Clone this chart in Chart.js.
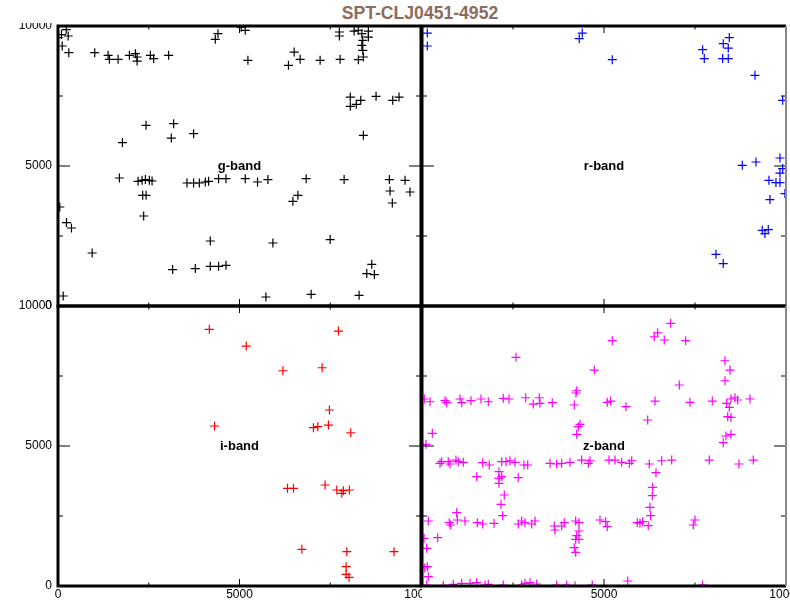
<!DOCTYPE html>
<html>
<head>
<meta charset="utf-8">
<script src="https://cdn.jsdelivr.net/npm/chart.js@4.4.1/dist/chart.umd.min.js"></script>
<style>
  body { margin: 0; background: #fff; }
  #wrap { position: relative; width: 790px; height: 600px; overflow: hidden; }
  canvas { position: absolute; }
  #title {
    position: absolute; left: 0; width: 840px; top: 3px; text-align: center;
    font: bold 17.6px "Liberation Sans", Arial, sans-serif; color: #8c6c5c;
  }
</style>
</head>
<body>
<div id="wrap">
  <div id="title">SPT-CLJ0451-4952</div>
  <canvas id="tl" width="422" height="290" style="left:0;top:23px"></canvas>
  <canvas id="tr" width="370" height="290" style="left:420px;top:23px"></canvas>
  <canvas id="bl" width="422" height="304" style="left:0;top:296px"></canvas>
  <canvas id="br" width="370" height="304" style="left:420px;top:296px"></canvas>
</div>
<script>
// pixel positions on the chip, both axes 0..10000
const tickValues = [0, 5000, 10000];
const innerTicks = [2500, 5000, 7500];
const bandLabels = ['g-band', 'r-band', 'i-band', 'z-band'];

const gX = [226,96,281,6,116,297,1012,1381,1417,1656,1967,2132,2179,2179,2545,2635,3048,2426,3186,3122,3736,1774,
  4333,4407,5158,5048,5232,6349,6506,6671,7221,7772,7752,7752,8157,8275,8369,8550,8550,8396,8369,8396,8413,8275,
  8052,8052,8217,8341,8762,9221,9395,8413,
  1692,2206,2316,2407,2517,2591,2333,2426,2360,3554,3736,3893,4058,4149,4424,4627,5158,5497,5783,6836,7882,9128,
  9560,9147,9697,9210,6470,6608,50,234,371,941,3158,3783,4195,4424,4627,4195,5920,7497,8644,8506,8715,143,5728,6974,8294];
const gY = [9871,9692,9642,9585,9285,9049,9049,8953,8810,8810,8953,9013,8892,8749,8953,8835,8953,6453,6513,5999,6156,5835,
  9524,9727,9845,9952,8774,8595,9070,8810,8774,8810,9785,9642,9820,9845,9727,9820,9606,9488,9310,9131,8892,8799,
  7463,7131,7203,7346,7489,7346,7463,6096,
  4571,4453,4489,4514,4489,4464,3953,3953,3214,4392,4392,4392,4428,4453,4549,4549,4549,4428,4514,4549,4514,4514,
  4489,4107,4071,3678,3739,3953,3535,2978,2785,1893,1300,1336,1418,1418,1453,2321,2250,2371,1489,1157,1121,357,321,418,382];

const rX = [146,146,4403,4321,5228,7711,7755,8277,8442,8414,8260,8414,9148,9908,
  8799,9175,9834,9834,9908,9532,9724,9834,9971,9560,9348,9513,9422,8076,8277];
const rY = [9749,9285,9749,9549,8799,9156,8835,9370,9585,9213,8835,8835,8238,7346,
  5024,5142,5285,4749,4907,4489,4407,4407,4014,3800,2703,2728,2585,1846,1514];

const iX = [4168,5186,6195,7276,7725,7477,4314,7037,7158,7450,8066,6322,6487,7359,7681,7818,7862,8027,6718,7956,9257,7937,7937,8019];
const iY = [9167,8570,7688,7795,9106,6285,5714,5653,5689,5749,5474,3489,3489,3607,3428,3310,3403,3428,1311,1225,1225,689,418,311];

const zX = [6832,6475,6381,6656,7244,5228,2582,4733,8323,8461,8323,7068,4250,4230,63,220,632,679,1044,1091,1346,1621,1821,
  2233,2390,2849,3057,3222,3241,3579,4184,5090,5184,5604,6401,7362,7975,8370,8488,8598,8672,9010,8442,8398,8488,6200,
  4340,4294,4250,283,110,8351,8488,8277,
  494,541,722,769,934,997,1135,1667,1849,2189,2307,2417,2555,2802,2904,3516,3700,3838,4066,4387,4568,4615,5137,5302,
  5486,5695,5761,6244,6585,6859,7892,8708,9101,
  1503,2115,2115,2189,2115,2645,6428,2261,2170,2217,6337,6326,6263,6282,
  173,750,788,953,970,1181,1519,1667,1978,2645,2739,2829,3013,3104,3634,3654,3838,3909,4222,4313,4313,4250,4222,4313,
  4184,4222,4890,5046,5090,5914,5988,6063,6216,7453,7499,
  55,431,129,146,77,173,129,
  585,860,1091,1319,1503,1731,1821,2233,2739,2829,2967,3151,3700,3975,4203,4678,5651,7711];
const zY = [9381,9045,8902,8785,8760,8760,8167,7713,8045,7713,7331,7178,6974,6892,6678,6581,6617,6546,6678,6546,6617,6678,6581,
  6703,6678,6724,6499,6724,6524,6546,6464,6560,6606,6403,6606,6560,6606,6524,6678,6724,6642,6678,6381,6046,6024,5928,
  5774,5689,5417,5453,5060,5357,5417,5117,
  4382,4439,4439,4357,4499,4439,4417,4403,4321,4439,4439,4474,4417,4321,4321,4382,4357,4382,4417,4499,4382,4474,4499,4499,
  4417,4382,4474,4357,4474,4499,4499,4357,4499,
  3903,4082,3846,3903,3667,3867,4046,3250,2918,2510,3525,3225,2810,2510,
  2321,2260,2178,2618,2357,2321,2260,2214,2239,2214,2321,2260,2214,2321,2143,2000,2143,2260,2321,2260,1964,1796,1668,1668,
  1368,1203,2357,2296,2118,2260,2239,2296,2153,2178,2357,
  1703,1725,1346,689,643,332,36,
  20,61,96,96,118,36,61,36,36,96,118,71,36,36,10,36,179,36];

const FONT = '"Liberation Sans", Arial, sans-serif';

// frame with inward ticks and the band name in the middle
const framePlugin = {
  id: 'frame',
  afterDatasetsDraw(chart, args, opts) {
    const { ctx, chartArea: a, scales: { x, y } } = chart;
    ctx.save();
    ctx.strokeStyle = '#000';
    ctx.lineWidth = 1;
    ctx.beginPath();
    innerTicks.forEach(v => {
      const px = x.getPixelForValue(v), py = y.getPixelForValue(v);
      const lx = v === 5000 ? 7 : 3.5, ly = v === 5000 ? 12 : 5;
      ctx.moveTo(px, a.bottom); ctx.lineTo(px, a.bottom - lx);
      ctx.moveTo(px, a.top); ctx.lineTo(px, a.top + lx);
      ctx.moveTo(a.left, py); ctx.lineTo(a.left + ly, py);
      ctx.moveTo(a.right, py); ctx.lineTo(a.right - ly, py);
    });
    ctx.stroke();

    ctx.lineWidth = 3;
    ctx.beginPath();
    ctx.moveTo(a.right, a.top); ctx.lineTo(a.left, a.top);
    ctx.lineTo(a.left, a.bottom); ctx.lineTo(a.right, a.bottom);
    if (!opts.greyRight) ctx.lineTo(a.right, a.top);
    ctx.stroke();
    if (opts.greyRight) {
      ctx.strokeStyle = '#888';
      ctx.lineWidth = 2;
      ctx.beginPath();
      ctx.moveTo(a.right, a.top); ctx.lineTo(a.right, a.bottom);
      ctx.stroke();
    }

    ctx.fillStyle = '#000';
    ctx.font = 'bold 13px ' + FONT;
    ctx.textAlign = 'center';
    ctx.textBaseline = 'middle';
    ctx.fillText(opts.label, x.getPixelForValue(5000), y.getPixelForValue(5000));
    ctx.restore();
  }
};

function makePanel(id, xs, ys, color, label, cfg) {
  const pts = xs.map((v, i) => ({ x: v, y: ys[i] }));
  new Chart(document.getElementById(id), {
    type: 'scatter',
    data: {
      datasets: [{
        data: pts,
        pointStyle: 'cross',
        pointRadius: 4.5,
        pointHoverRadius: 4.5,
        borderColor: color,
        backgroundColor: color,
        borderWidth: 1.2,
        clip: 0
      }]
    },
    options: {
      responsive: false,
      animation: false,
      devicePixelRatio: 1,
      events: [],
      layout: { padding: cfg.padding, autoPadding: false },
      plugins: {
        legend: { display: false },
        tooltip: { enabled: false },
        frame: { label: label, greyRight: cfg.greyRight }
      },
      scales: {
        x: {
          type: 'linear', min: 0, max: 10000,
          display: cfg.xLabels,
          grid: { display: false, drawTicks: false },
          border: { display: false },
          afterBuildTicks: s => { s.ticks = tickValues.map(v => ({ value: v })); },
          ticks: {
            padding: 1,
            color: '#000',
            font: { family: FONT, size: 12 },
            maxRotation: 0,
            autoSkip: false,
            callback: v => (cfg.hideZero && v === 0) ? '' : String(v)
          },
          afterFit: s => {
            s.height = cfg.xLabels ? 14 : 0;
            s.paddingLeft = 0; s.paddingRight = 0;
          }
        },
        y: {
          type: 'linear', min: 0, max: 10000,
          display: cfg.yLabels,
          grid: { display: false, drawTicks: false },
          border: { display: false },
          afterBuildTicks: s => { s.ticks = tickValues.map(v => ({ value: v })); },
          ticks: {
            padding: 6,
            color: '#000',
            font: { family: FONT, size: 12 },
            autoSkip: false,
            callback: v => String(v)
          },
          afterFit: s => {
            s.width = cfg.yLabels ? 58 : 0;
            s.paddingTop = 0; s.paddingBottom = 0;
          }
        }
      }
    },
    plugins: [framePlugin]
  });
}

makePanel('tl', gX, gY, '#000000', bandLabels[0],
  { padding: { top: 3, right: 1, bottom: 7, left: 0 }, xLabels: false, yLabels: true });
makePanel('tr', rX, rY, '#0000ff', bandLabels[1],
  { padding: { top: 3, right: 4, bottom: 7, left: 2 }, xLabels: false, yLabels: false, greyRight: true });
makePanel('bl', iX, iY, '#ff0000', bandLabels[2],
  { padding: { top: 10, right: 1, bottom: 0, left: 0 }, xLabels: true, yLabels: true });
makePanel('br', zX, zY, '#ff00ff', bandLabels[3],
  { padding: { top: 10, right: 4, bottom: 0, left: 2 }, xLabels: true, yLabels: false, greyRight: true, hideZero: true });
</script>
</body>
</html>
